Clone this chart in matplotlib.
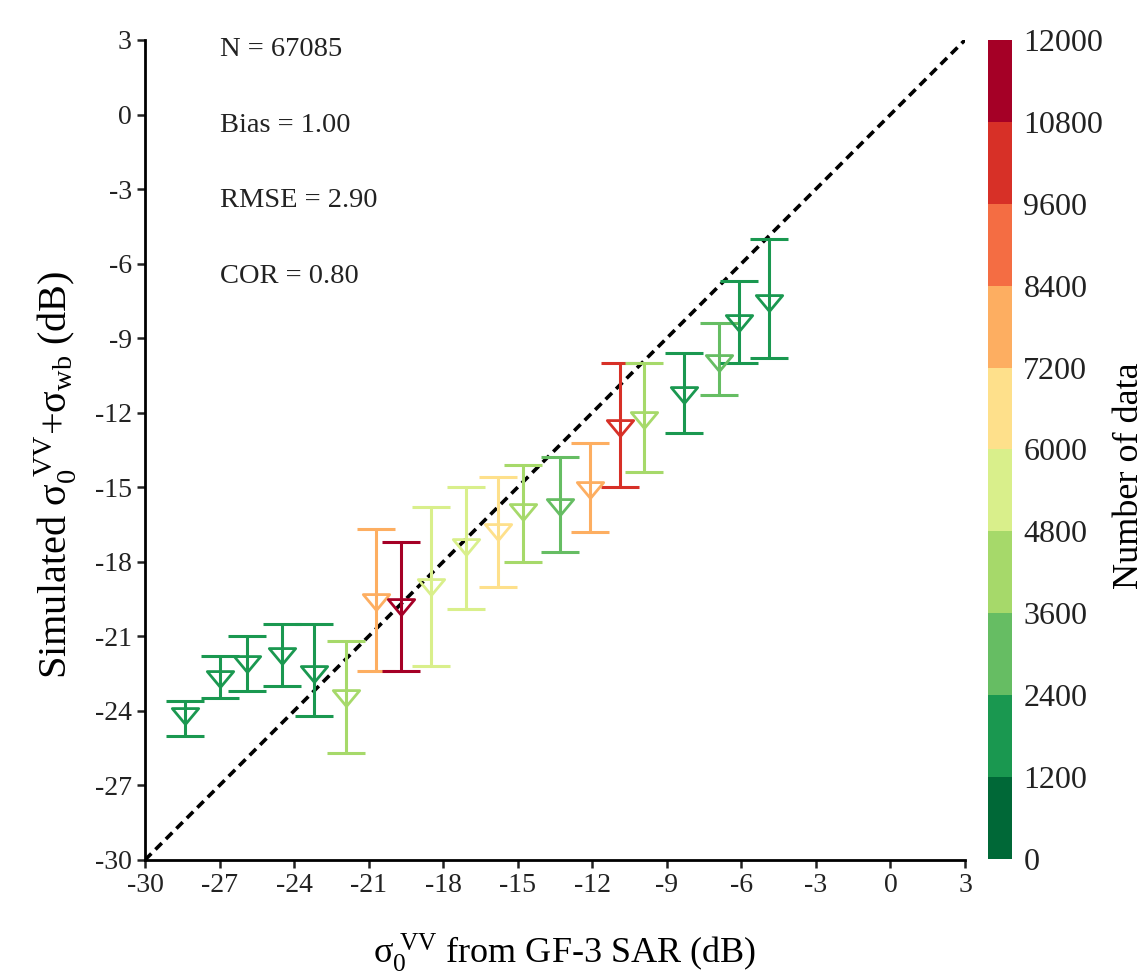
import numpy as np
import matplotlib
matplotlib.use("Agg")
import matplotlib.pyplot as plt
from matplotlib.colors import ListedColormap, BoundaryNorm
from matplotlib.path import Path

plt.rcParams['font.family'] = ['Liberation Serif', 'DejaVu Serif']
plt.rcParams['mathtext.fontset'] = 'custom'
plt.rcParams['mathtext.rm'] = 'Liberation Serif'
plt.rcParams['mathtext.it'] = 'Liberation Serif'
plt.rcParams['axes.unicode_minus'] = False

# binned GF-3 backscatter vs. simulated backscatter
sar_db = [-28.4, -27.0, -25.9, -24.5, -23.2, -21.9, -20.7, -19.7, -18.5, -17.1,
          -15.8, -14.8, -13.3, -12.1, -10.9, -9.9, -8.3, -6.9, -6.1, -4.9]
sim_mean = [-24.2, -22.7, -22.1, -21.8, -22.5, -23.5, -19.6, -19.8, -19.0, -17.4,
            -16.8, -16.0, -15.8, -15.1, -12.6, -12.3, -11.3, -10.0, -8.4, -7.6]
sim_upper = [-23.6, -21.8, -21.0, -20.5, -20.5, -21.2, -16.7, -17.2, -15.8, -15.0,
             -14.6, -14.1, -13.8, -13.2, -10.0, -10.0, -9.6, -8.4, -6.7, -5.0]
sim_lower = [-25.0, -23.5, -23.2, -23.0, -24.2, -25.7, -22.4, -22.4, -22.2, -19.9,
             -19.0, -18.0, -17.6, -16.8, -15.0, -14.4, -12.8, -11.3, -10.0, -9.8]
n_data = [2300, 1800, 1800, 1800, 1500, 4200, 7800, 11500, 5400, 5500,
          6500, 4300, 3000, 7800, 10200, 4200, 1800, 3000, 2200, 2000]

stats_text = ['N = 67085', 'Bias = 1.00', 'RMSE = 2.90', 'COR = 0.80']

bounds = np.arange(0, 12001, 1200)
palette = ['#006837', '#1a9850', '#66bd63', '#a6d96a', '#d9ef8b',
           '#fee08b', '#fdae61', '#f46d43', '#d73027', '#a50026']
cmap = ListedColormap(palette)
norm = BoundaryNorm(bounds, cmap.N)

# wide downward triangle marker
tri = Path([(-1, 0.6), (1, 0.6), (0, -0.6), (-1, 0.6)],
           [Path.MOVETO, Path.LINETO, Path.LINETO, Path.CLOSEPOLY])

fig = plt.figure(figsize=(11.45, 9.77), dpi=100)
ax = fig.add_axes([0.1266, 0.1198, 0.7162, 0.8393])

lims = [-30, 3]
ax.plot(lims, lims, color='black', linestyle=(0, (2.5, 1.6)), linewidth=2.6, zorder=1)

for xi, ym, yu, yl, n in zip(sar_db, sim_mean, sim_upper, sim_lower, n_data):
    c = cmap(norm(n))
    ax.errorbar(xi, ym, yerr=[[ym - yl], [yu - ym]], fmt='none', ecolor=c,
                elinewidth=2.2, capsize=14, capthick=2.2, zorder=2)
    ax.plot(xi, ym, marker=tri, markersize=19, markerfacecolor='none',
            markeredgecolor=c, markeredgewidth=2.0, linestyle='none', zorder=3)

ax.set_xlim(lims)
ax.set_ylim(lims)
ticks = np.arange(-30, 4, 3)
ax.set_xticks(ticks)
ax.set_yticks(ticks)
ax.spines['top'].set_visible(False)
ax.spines['right'].set_visible(False)
ax.spines['left'].set_linewidth(2.0)
ax.spines['bottom'].set_linewidth(2.0)
ax.tick_params(direction='out', length=6, width=1.8, labelsize=20, colors='#222222')

ax.set_xlabel(r'σ$_0^{\ \mathrm{VV}}$ from GF-3 SAR (dB)', fontsize=26, labelpad=24)
ax.xaxis.label.set_x(0.512)
ax.set_ylabel(r'Simulated σ$_0^{\ \mathrm{VV}}$+σ$_{\mathrm{wb}}$ (dB)',
              fontsize=29, labelpad=11)
ax.yaxis.label.set_y(0.47)

for i, s in enumerate(stats_text):
    ax.text(0.091, 0.988 - i * 0.092, s, transform=ax.transAxes,
            fontsize=20.5, va='center', ha='left', color='#222222')

cax = fig.add_axes([0.863, 0.1208, 0.021, 0.8383])
sm = plt.cm.ScalarMappable(cmap=cmap, norm=norm)
cb = fig.colorbar(sm, cax=cax, ticks=bounds, spacing='proportional')
cb.outline.set_visible(False)
cb.ax.tick_params(length=0, labelsize=23, pad=8, colors='#222222')
cb.set_label('Number of data', fontsize=26, labelpad=7)
cb.ax.yaxis.label.set_y(0.468)

fig.savefig('out.png', dpi=100, facecolor='white')
